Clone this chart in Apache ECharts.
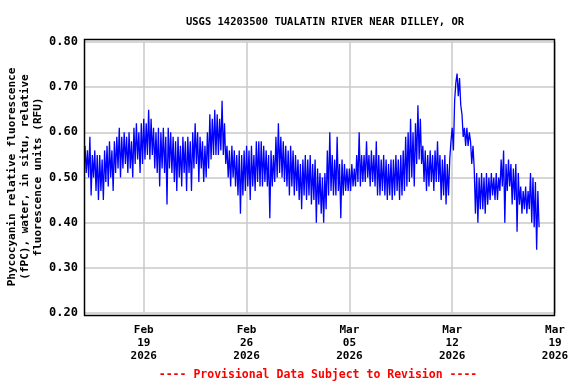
<!DOCTYPE html>
<html>
<head>
<meta charset="utf-8">
<script src="https://cdn.jsdelivr.net/npm/echarts@6/dist/echarts.min.js"></script>
<style>html,body{margin:0;padding:0;background:#fff}#c{width:576px;height:384px}</style>
</head>
<body>
<div id="c"></div>
<script>
// ---- data (2-hourly readings, starting 2026-02-15 00:00) ----
const startDate = Date.UTC(2026, 1, 15, 0, 0);
const stepHours = 2;
const fpc = [
  0.57,0.51,0.56,0.50,0.59,0.46,0.55,0.50,0.56,0.47,0.55,0.45, // Feb 15
  0.55,0.47,0.54,0.45,0.56,0.49,0.57,0.48,0.58,0.50,0.56,0.47, // Feb 16
  0.58,0.51,0.59,0.52,0.61,0.50,0.59,0.52,0.60,0.53,0.59,0.51, // Feb 17
  0.60,0.52,0.58,0.50,0.61,0.53,0.62,0.54,0.60,0.51,0.62,0.53, // Feb 18
  0.63,0.54,0.62,0.55,0.65,0.54,0.63,0.55,0.61,0.52,0.60,0.51, // Feb 19
  0.61,0.48,0.60,0.52,0.61,0.51,0.59,0.44,0.61,0.52,0.60,0.51, // Feb 20
  0.59,0.49,0.58,0.47,0.59,0.50,0.57,0.48,0.59,0.51,0.58,0.47, // Feb 21
  0.59,0.51,0.58,0.47,0.60,0.52,0.62,0.53,0.60,0.49,0.59,0.52, // Feb 22
  0.58,0.49,0.57,0.50,0.60,0.52,0.64,0.54,0.63,0.55,0.65,0.55, // Feb 23
  0.64,0.55,0.63,0.56,0.67,0.55,0.62,0.53,0.57,0.50,0.56,0.48, // Feb 24
  0.57,0.50,0.56,0.48,0.55,0.46,0.56,0.42,0.55,0.46,0.56,0.47, // Feb 25
  0.57,0.48,0.56,0.45,0.57,0.48,0.55,0.47,0.58,0.49,0.58,0.48, // Feb 26
  0.58,0.48,0.57,0.49,0.56,0.48,0.55,0.41,0.56,0.48,0.55,0.49, // Feb 27
  0.59,0.50,0.62,0.51,0.59,0.50,0.58,0.49,0.57,0.48,0.56,0.46, // Feb 28
  0.57,0.48,0.56,0.46,0.55,0.47,0.54,0.45,0.53,0.43,0.54,0.46, // Mar 1
  0.55,0.45,0.54,0.46,0.55,0.44,0.53,0.45,0.54,0.40,0.52,0.44, // Mar 2
  0.51,0.42,0.50,0.40,0.51,0.43,0.56,0.46,0.60,0.47,0.55,0.46, // Mar 3
  0.54,0.46,0.59,0.47,0.53,0.41,0.54,0.46,0.53,0.47,0.52,0.47, // Mar 4
  0.52,0.47,0.53,0.48,0.52,0.48,0.55,0.49,0.60,0.48,0.55,0.49, // Mar 5
  0.55,0.49,0.58,0.50,0.55,0.48,0.56,0.49,0.55,0.48,0.58,0.46, // Mar 6
  0.55,0.46,0.54,0.47,0.55,0.46,0.54,0.45,0.53,0.46,0.54,0.45, // Mar 7
  0.54,0.46,0.55,0.47,0.54,0.45,0.55,0.46,0.56,0.47,0.59,0.48, // Mar 8
  0.60,0.49,0.63,0.50,0.60,0.48,0.62,0.53,0.66,0.54,0.63,0.53, // Mar 9
  0.57,0.49,0.56,0.47,0.55,0.48,0.56,0.49,0.55,0.47,0.56,0.49, // Mar 10
  0.58,0.49,0.55,0.45,0.54,0.46,0.55,0.44,0.53,0.46,0.54,0.58, // Mar 11
  0.61,0.56,0.67,0.71,0.73,0.68,0.72,0.66,0.64,0.59,0.61,0.57, // Mar 12
  0.61,0.57,0.60,0.58,0.53,0.57,0.52,0.42,0.51,0.40,0.50,0.43, // Mar 13
  0.51,0.43,0.50,0.42,0.51,0.44,0.50,0.45,0.51,0.46,0.50,0.45, // Mar 14
  0.51,0.45,0.50,0.47,0.54,0.48,0.56,0.40,0.53,0.47,0.54,0.48, // Mar 15
  0.53,0.44,0.52,0.45,0.53,0.38,0.51,0.44,0.48,0.42,0.47,0.43, // Mar 16
  0.48,0.42,0.47,0.43,0.51,0.40,0.50,0.39,0.49,0.34,0.47,0.39  // Mar 17
];
const xRange = [Date.UTC(2026, 1, 15), Date.UTC(2026, 2, 19)];
const tickDates = [Date.UTC(2026, 1, 19), Date.UTC(2026, 1, 26), Date.UTC(2026, 2, 5), Date.UTC(2026, 2, 12), Date.UTC(2026, 2, 19)];
const tickLabels = ['Feb\n19\n2026', 'Feb\n26\n2026', 'Mar\n05\n2026', 'Mar\n12\n2026', 'Mar\n19\n2026'];
const titleText = 'USGS 14203500 TUALATIN RIVER NEAR DILLEY, OR';
const yName = 'Phycocyanin relative fluorescence\n(fPC), water, in situ, relative\nfluorescence units (RFU)';
const noteText = '---- Provisional Data Subject to Revision ----';

const seriesData = fpc.map((v, i) => [startDate + i * stepHours * 3600000, v]);
const FONT = '"DejaVu Sans Mono", "Liberation Mono", monospace';

const chart = echarts.init(document.getElementById('c'), null, {renderer: 'canvas'});
chart.setOption({
  animation: false,
  backgroundColor: '#ffffff',
  title: {
    text: titleText, left: 320, top: 12, textAlign: 'center',
    textStyle: {fontFamily: FONT, fontSize: 10.5, fontWeight: 'bold', color: '#000'}
  },
  grid: {left: 85, right: 21, top: 42, bottom: 71, containLabel: false},
  xAxis: {
    type: 'value', min: xRange[0], max: xRange[1],
    axisLine: {show: false},
    axisTick: {show: false, customValues: tickDates},
    axisLabel: {
      customValues: tickDates, margin: 11,
      fontFamily: FONT, fontSize: 11, fontWeight: 'bold', color: '#000', lineHeight: 13,
      formatter: v => tickLabels[tickDates.indexOf(v)] || ''
    },
    splitLine: {show: true, lineStyle: {color: '#c8c8c8', width: 1.5}}
  },
  yAxis: {
    type: 'value', min: 0.2, max: 0.8, interval: 0.1,
    axisLine: {show: false}, axisTick: {show: false},
    axisLabel: {
      margin: 7, fontFamily: FONT, fontSize: 12, fontWeight: 'bold', color: '#000',
      formatter: v => v.toFixed(2)
    },
    splitLine: {show: true, lineStyle: {color: '#c8c8c8', width: 1.5}}
  },
  graphic: [
    {type: 'rect', shape: {x: 84.5, y: 39.5, width: 470, height: 276}, style: {fill: null, stroke: '#000', lineWidth: 1.5}, z: 100},
    {type: 'text', x: 25, y: 177, rotation: Math.PI / 2,
      style: {text: yName, fontFamily: FONT, fontSize: 11, fontWeight: 'bold', fill: '#000', align: 'center', verticalAlign: 'middle', lineHeight: 13}},
    {type: 'text', x: 318, y: 375,
      style: {text: noteText, fontFamily: FONT, fontSize: 11.5, fontWeight: 'bold', fill: '#ff0000', align: 'center', verticalAlign: 'middle'}}
  ],
  series: [{
    type: 'line', data: seriesData, showSymbol: false, symbol: 'none',
    lineStyle: {color: '#0000ff', width: 1.3}, clip: true
  }]
});
</script>
</body>
</html>
